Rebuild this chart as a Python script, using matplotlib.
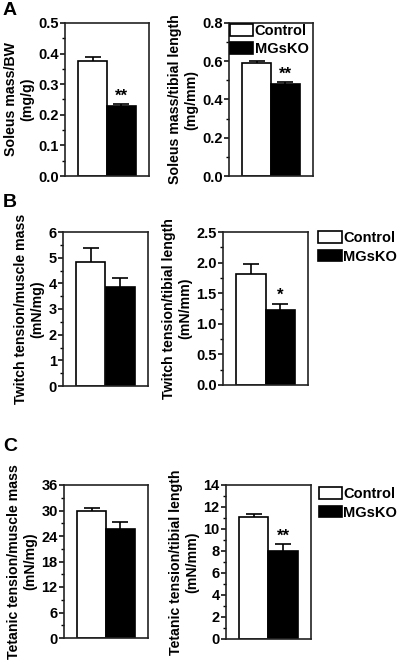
import matplotlib
matplotlib.use("Agg")
import matplotlib.pyplot as plt
from matplotlib.patches import Patch
from matplotlib.ticker import MultipleLocator

plt.rcParams['font.family'] = ['Liberation Sans', 'DejaVu Sans']
plt.rcParams['font.weight'] = 'bold'

groups = ["Control", "MGsKO"]
colors = ["white", "black"]

soleus_bw = [0.375, 0.228]
soleus_bw_err = [0.015, 0.007]
soleus_tl = [0.59, 0.48]
soleus_tl_err = [0.012, 0.011]
twitch_mm = [4.85, 3.85]
twitch_mm_err = [0.52, 0.37]
twitch_tl = [1.82, 1.22]
twitch_tl_err = [0.16, 0.11]
tetanic_mm = [29.9, 25.6]
tetanic_mm_err = [0.6, 1.8]
tetanic_tl = [11.1, 8.0]
tetanic_tl_err = [0.25, 0.6]

W, H = 400, 665
fig = plt.figure(figsize=(W / 100, H / 100), dpi=100)


def make_ax(x0, x1, y0, y1):
    return fig.add_axes([x0 / W, 1 - y1 / H, (x1 - x0) / W, (y1 - y0) / H])


def panel(ax, vals, errs, ymax, major, minor, ylabel, fmt, stars=None):
    xs = [0, 1]
    ax.bar(xs, vals, width=1.0, color=colors, edgecolor="black", linewidth=1.2, zorder=2)
    for x, v, e in zip(xs, vals, errs):
        eb = ax.errorbar([x], [v], yerr=[[0], [e]], fmt="none", ecolor="black",
                         elinewidth=1.2, capsize=6, capthick=1.2, zorder=3)
        eb[1][0].set_visible(False)
    if stars:
        ax.text(1, vals[1] + errs[1] + ymax * 0.005, stars, ha="center", va="bottom",
                fontsize=12, fontweight="bold")
    ax.set_xlim(-0.95, 1.95)
    ax.set_ylim(0, ymax)
    ax.set_xticks([])
    ax.yaxis.set_major_locator(MultipleLocator(major))
    ax.yaxis.set_minor_locator(MultipleLocator(minor))
    ax.yaxis.set_major_formatter(matplotlib.ticker.FuncFormatter(lambda v, p: fmt.format(v)))
    ax.tick_params(axis="y", which="major", length=3.5, width=1.1, labelsize=10.5, pad=1)
    ax.tick_params(axis="y", which="minor", length=2.2, width=1.0)
    for lab in ax.get_yticklabels():
        lab.set_fontweight("bold")
    for s in ax.spines.values():
        s.set_linewidth(1.2)
        s.set_color("#222222")
    ax.set_ylabel(ylabel, fontsize=10.2, fontweight="bold", linespacing=1.2, labelpad=3)


handles = [Patch(facecolor=c, edgecolor="black", linewidth=1.2) for c in colors]
leg_kw = dict(frameon=False, handlelength=1.6, handleheight=0.85, handletextpad=0.1,
              labelspacing=0.3, borderaxespad=0.0, borderpad=0.0,
              prop={"weight": "bold", "size": 10.5})

# Panel A
axA1 = make_ax(65, 149, 23, 176)
panel(axA1, soleus_bw, soleus_bw_err, 0.5, 0.1, 0.05, "Soleus mass/BW\n(mg/g)", "{:.1f}", "**")
axA2 = make_ax(229, 313, 23, 176)
panel(axA2, soleus_tl, soleus_tl_err, 0.8, 0.2, 0.1, "Soleus mass/tibial length\n(mg/mm)", "{:.1f}", "**")
axA2.legend(handles, groups, loc="upper left", bbox_to_anchor=(0.01, 0.995), **leg_kw)

# Panel B
axB1 = make_ax(63, 148, 232, 386)
panel(axB1, twitch_mm, twitch_mm_err, 6, 1, 0.5, "Twitch tension/muscle mass\n(mN/mg)", "{:.0f}")
axB2 = make_ax(223, 308, 232, 385)
panel(axB2, twitch_tl, twitch_tl_err, 2.5, 0.5, 0.25, "Twitch tension/tibial length\n(mN/mm)", "{:.1f}", "*")
axB2.legend(handles, groups, loc="upper left", bbox_to_anchor=(1.12, 1.005), **leg_kw)

# Panel C
axC1 = make_ax(64, 148, 485, 638)
panel(axC1, tetanic_mm, tetanic_mm_err, 36, 6, 3, "Tetanic tension/muscle mass\n(mN/mg)", "{:.0f}")
axC2 = make_ax(226, 311, 485, 639)
panel(axC2, tetanic_tl, tetanic_tl_err, 14, 2, 1, "Tetanic tension/tibial length\n(mN/mm)", "{:.0f}", "**")
axC2.legend(handles, groups, loc="upper left", bbox_to_anchor=(1.09, 0.985), **leg_kw)

for letter, y in [("A", 2), ("B", 194), ("C", 438)]:
    fig.text(3 / W, 1 - y / H, letter, ha="left", va="top", fontsize=14, fontweight="bold")

fig.savefig("out.png", dpi=100)
